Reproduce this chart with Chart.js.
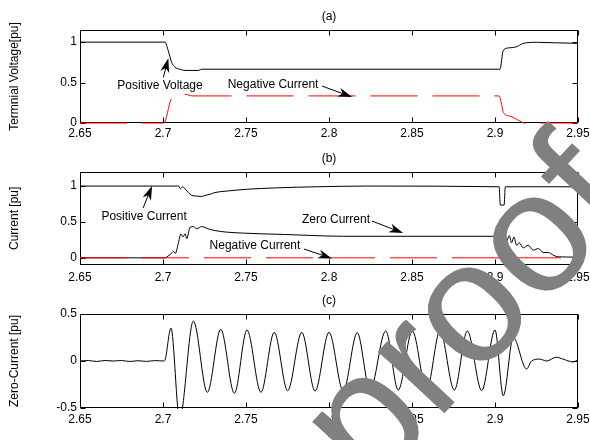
<!DOCTYPE html>
<html>
<head>
<meta charset="utf-8">
<script src="https://cdn.jsdelivr.net/npm/chart.js@4.4.1/dist/chart.umd.min.js"></script>
<style>
html, body { margin: 0; padding: 0; background: #fff; width: 590px; height: 440px; overflow: hidden; }
.panel { position: absolute; left: 0; width: 590px; }
canvas { display: block; }
#wm { position: absolute; left: 0; top: 0; pointer-events: none; }
</style>
</head>
<body>
<div class="panel" style="top:0px;height:145px"><canvas id="chartA" width="590" height="145"></canvas></div>
<div class="panel" style="top:145px;height:143px"><canvas id="chartB" width="590" height="143"></canvas></div>
<div class="panel" style="top:288px;height:152px"><canvas id="chartC" width="590" height="152"></canvas></div>
<canvas id="wm" width="590" height="440"></canvas>
<script>
// Marcas de los ejes
const xTicks = [2.65, 2.7, 2.75, 2.8, 2.85, 2.9, 2.95];
const yTicksA = [0, 0.5, 1];
const yTicksB = [0, 0.5, 1];
const yTicksC = [-0.5, 0, 0.5];

// (a) Positive Voltage
const posVoltT = [2.65, 2.7012, 2.7032, 2.7052, 2.7072, 2.710, 2.7133, 2.7213, 2.7233, 2.903, 2.905, 2.909, 2.913, 2.917, 2.925, 2.949, 2.95];
const posVoltV = [1.0, 1.0, 0.89, 0.75, 0.69, 0.665, 0.65, 0.65, 0.665, 0.665, 0.90, 0.93, 0.943, 0.985, 0.998, 0.985, 0.985];
// (a) Negative Current
const negCurAT = [2.65, 2.7005, 2.705, 2.708, 2.7135, 2.7175, 2.9025, 2.904, 2.905, 2.909, 2.915, 2.9175, 2.95];
const negCurAV = [0, 0, 0.30, 0.335, 0.355, 0.335, 0.335, 0.23, 0.13, 0.085, 0.025, 0, 0];

// (b) Positive Current
const posCurT = [2.65, 2.7095, 2.7105, 2.7118, 2.713, 2.7152, 2.7173, 2.7203, 2.7233, 2.7253, 2.7283, 2.7313, 2.7384, 2.7504, 2.7685, 2.7926, 2.8227, 2.9025, 2.9032, 2.9055, 2.9062, 2.95];
const posCurV = [1.0, 1.0, 0.96, 0.99, 0.97, 0.91, 0.87, 0.86, 0.855, 0.87, 0.885, 0.91, 0.93, 0.955, 0.975, 0.99, 1.0, 0.99, 0.735, 0.735, 0.99, 0.99];
// (b) Zero Current
const zeroCurT = [2.65, 2.7012, 2.7024, 2.7044, 2.7064, 2.7074, 2.7094, 2.7108, 2.712, 2.7133, 2.7143, 2.7163, 2.7183, 2.7203, 2.7233, 2.7273, 2.7313, 2.7384, 2.7484, 2.7584, 2.7725, 2.7886, 2.8086, 2.904, 2.9054, 2.907, 2.9086, 2.91, 2.9114, 2.913, 2.9146, 2.917, 2.92, 2.9231, 2.9261, 2.9291, 2.9321, 2.9351, 2.9381, 2.95];
const zeroCurV = [0, 0, 0.014, 0.047, 0.09, 0.06, 0.22, 0.335, 0.29, 0.335, 0.267, 0.426, 0.435, 0.404, 0.435, 0.404, 0.38, 0.358, 0.344, 0.335, 0.326, 0.312, 0.30, 0.30, 0.358, 0.23, 0.31, 0.21, 0.29, 0.175, 0.21, 0.138, 0.175, 0.106, 0.13, 0.074, 0.074, 0.037, 0.014, 0.01];
// (b) Negative Current
const negCurBT = [2.65, 2.95];
const negCurBV = [0, 0];

// (c) Zero-Current
const zeroCurCT = [2.65, 2.655, 2.66, 2.665, 2.67, 2.675, 2.68, 2.685, 2.69, 2.695, 2.7005, 2.7012, 2.7048, 2.710, 2.7183, 2.7267, 2.7348, 2.743, 2.7506, 2.759, 2.767, 2.7751, 2.7836, 2.7916, 2.80, 2.8086, 2.817, 2.8247, 2.8342, 2.8417, 2.8502, 2.8588, 2.8669, 2.8755, 2.8833, 2.892, 2.90, 2.905, 2.911, 2.919, 2.922, 2.927, 2.931, 2.937, 2.941, 2.947, 2.95];
const zeroCurCV = [0, 0.005, -0.005, 0.005, 0, 0.005, -0.005, 0.003, -0.004, 0.004, 0, 0.01, 0.35, -0.62, 0.425, -0.333, 0.337, -0.344, 0.33, -0.333, 0.305, -0.316, 0.305, -0.32, 0.305, -0.32, 0.30, -0.31, 0.32, -0.31, 0.32, -0.31, 0.32, -0.31, 0.32, -0.315, 0.33, -0.37, 0.25, -0.085, 0, 0.02, 0, 0.04, 0.02, -0.01, 0.015];

// Textos con flecha (posiciones en unidades de datos)
const notasA = [
    { text: 'Positive Voltage', t: 2.6982, v: 0.464, t1: 2.7002, v1: 0.565, t2: 2.7032, v2: 0.80 },
    { text: 'Negative Current', t: 2.7663, v: 0.47, t1: 2.7958, v1: 0.457, t2: 2.8139, v2: 0.321 }
];
const notasB = [
    { text: 'Positive Current', t: 2.6886, v: 0.568, t1: 2.688, v1: 0.694, t2: 2.6934, v2: 1.0 },
    { text: 'Zero Current', t: 2.8042, v: 0.526, t1: 2.8259, v1: 0.513, t2: 2.8446, v2: 0.345 },
    { text: 'Negative Current', t: 2.7554, v: 0.164, t1: 2.7849, v1: 0.123, t2: 2.8018, v2: -0.01 }
];

const fuente = { family: '"Liberation Sans", Arial, sans-serif', size: 12 };
const extras = {
    chartA: { label: '(a)', notas: notasA },
    chartB: { label: '(b)', notas: notasB },
    chartC: { label: '(c)', notas: [] }
};

function toXY(t, v) {
    return t.map((x, i) => ({ x: x, y: v[i] }));
}

function flecha(ctx, x1, y1, x2, y2) {
    const ang = Math.atan2(y2 - y1, x2 - x1);
    const len = 14, half = 4.5, notch = 10;
    ctx.beginPath();
    ctx.moveTo(x1, y1);
    ctx.lineTo(x2 - Math.cos(ang) * notch, y2 - Math.sin(ang) * notch);
    ctx.stroke();
    ctx.beginPath();
    ctx.moveTo(x2, y2);
    ctx.lineTo(x2 - Math.cos(ang) * len - Math.sin(ang) * half, y2 - Math.sin(ang) * len + Math.cos(ang) * half);
    ctx.lineTo(x2 - Math.cos(ang) * notch, y2 - Math.sin(ang) * notch);
    ctx.lineTo(x2 - Math.cos(ang) * len + Math.sin(ang) * half, y2 - Math.sin(ang) * len - Math.cos(ang) * half);
    ctx.closePath();
    ctx.fill();
}

// Marco con marcas hacia dentro, estilo MATLAB
const marcoPlugin = {
    id: 'marco',
    beforeDatasetsDraw(chart) {
        const { ctx, chartArea: a, scales: { x, y } } = chart;
        const L = Math.round(a.left) + 0.5, R = Math.round(a.right) - 0.5;
        const T = Math.round(a.top) + 0.5, B = Math.round(a.bottom) - 0.5;
        ctx.save();
        ctx.strokeStyle = '#000';
        ctx.lineWidth = 1;
        ctx.strokeRect(L, T, R - L, B - T);
        ctx.beginPath();
        x.ticks.forEach(tk => {
            const px = Math.round(x.getPixelForValue(tk.value)) + 0.5;
            ctx.moveTo(px, B); ctx.lineTo(px, B - 5);
            ctx.moveTo(px, T); ctx.lineTo(px, T + 5);
        });
        y.ticks.forEach(tk => {
            const py = Math.round(y.getPixelForValue(tk.value)) + 0.5;
            ctx.moveTo(L, py); ctx.lineTo(L + 5, py);
            ctx.moveTo(R, py); ctx.lineTo(R - 5, py);
        });
        ctx.stroke();
        ctx.restore();
    },
    afterDatasetsDraw(chart) {
        const { ctx, chartArea: a, scales: { x, y } } = chart;
        const info = extras[chart.canvas.id];
        ctx.save();
        ctx.fillStyle = '#000';
        ctx.strokeStyle = '#000';
        ctx.lineWidth = 1;
        ctx.font = '12px ' + fuente.family;
        ctx.textAlign = 'center';
        ctx.textBaseline = 'middle';
        ctx.fillText(info.label, (a.left + a.right) / 2, a.top - 13);
        info.notas.forEach(n => {
            ctx.fillText(n.text, x.getPixelForValue(n.t), y.getPixelForValue(n.v));
            flecha(ctx, x.getPixelForValue(n.t1), y.getPixelForValue(n.v1), x.getPixelForValue(n.t2), y.getPixelForValue(n.v2));
        });
        ctx.restore();
    }
};

function opciones(yMin, yMax, yTicks, yTitulo, padTop, xAlto, xPad, xTitulo) {
    return {
        responsive: false,
        animation: false,
        devicePixelRatio: 1,
        events: [],
        layout: { padding: { top: padTop, left: 0, right: 0, bottom: 0 } },
        plugins: { legend: { display: false }, tooltip: { enabled: false } },
        elements: { point: { radius: 0 } },
        scales: {
            x: {
                type: 'linear', min: 2.65, max: 2.95,
                afterBuildTicks: s => { s.ticks = xTicks.map(v => ({ value: v })); },
                afterFit: s => { s.height = xAlto; s.paddingLeft = 0; s.paddingRight = 12; },
                ticks: { callback: v => String(v), font: fuente, color: '#000', padding: xPad, maxRotation: 0, autoSkip: false },
                grid: { display: false, drawTicks: false },
                border: { display: false },
                title: { display: !!xTitulo, text: xTitulo || '', font: { family: fuente.family, size: 12, lineHeight: 1 }, color: '#000', padding: 0 }
            },
            y: {
                type: 'linear', min: yMin, max: yMax,
                afterBuildTicks: s => { s.ticks = yTicks.map(v => ({ value: v })); },
                afterFit: s => { s.width = 80; },
                ticks: { callback: v => String(v), font: fuente, color: '#000', padding: 3 },
                grid: { display: false, drawTicks: false },
                border: { display: false },
                title: { display: true, text: yTitulo, font: fuente, color: '#000', padding: { top: 7, bottom: 0 } }
            }
        }
    };
}

function serie(t, v, color, dash) {
    return {
        data: toXY(t, v),
        borderColor: color,
        borderWidth: 1,
        borderDash: dash || [],
        pointRadius: 0,
        cubicInterpolationMode: 'monotone',
        clip: 1
    };
}

// Gráfico (a)
const ctxA = document.getElementById('chartA').getContext('2d');
const chartA = new Chart(ctxA, {
    type: 'line',
    data: {
        datasets: [
            serie(negCurAT, negCurAV, 'rgb(255,0,0)', [47, 15]),
            serie(posVoltT, posVoltV, '#000')
        ]
    },
    options: opciones(0, 1.15, yTicksA, 'Termnial Voltage[pu]', 30, 22, 3),
    plugins: [marcoPlugin]
});

// Gráfico (b)
const ctxB = document.getElementById('chartB').getContext('2d');
const chartB = new Chart(ctxB, {
    type: 'line',
    data: {
        datasets: [
            serie(negCurBT, negCurBV, 'rgb(255,0,0)', [47, 15]),
            serie(posCurT, posCurV, '#000'),
            serie(zeroCurT, zeroCurV, '#000')
        ]
    },
    options: opciones(-0.1, 1.2, yTicksB, 'Current [pu]', 26.7, 23, 5),
    plugins: [marcoPlugin]
});

// Gráfico (c)
const ctxC = document.getElementById('chartC').getContext('2d');
const chartC = new Chart(ctxC, {
    type: 'line',
    data: {
        datasets: [
            serie(zeroCurCT, zeroCurCV, '#000')
        ]
    },
    options: opciones(-0.5, 0.5, yTicksC, 'Zero-Current [pu]', 26, 32, 4, 't'),
    plugins: [marcoPlugin]
});

// Marca de agua "proof"
const wm = document.getElementById('wm').getContext('2d');
wm.save();
wm.translate(371, 492);
wm.rotate(-47 * Math.PI / 180);
wm.font = '172px "Liberation Sans"';
wm.fillStyle = 'rgb(128,128,128)';
wm.textBaseline = 'alphabetic';
wm.fillText('proof', 0, 0);
wm.restore();
</script>
</body>
</html>
